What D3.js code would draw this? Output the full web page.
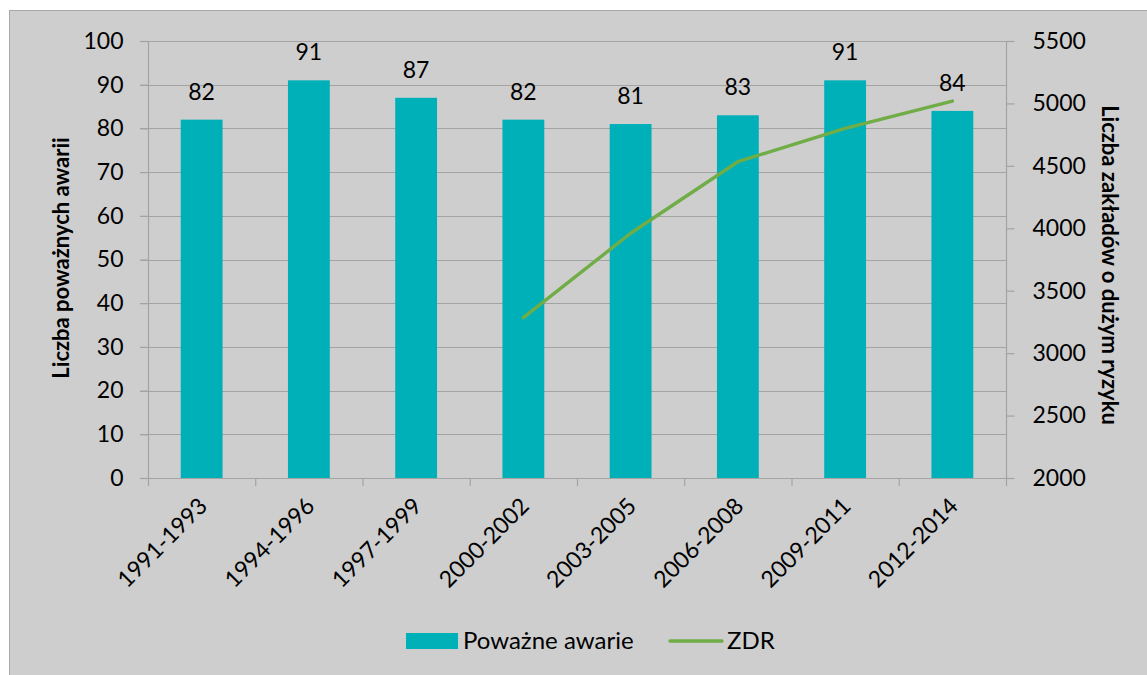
<!DOCTYPE html>
<html lang="pl">
<head>
<meta charset="utf-8">
<script src="https://cdn.jsdelivr.net/npm/d3@7"></script>
<style>
	html, body { margin: 0; padding: 0; background: #fff; }
	svg { display: block; font-family: Lato, "Open Sans", sans-serif; }
	.tick text { font-size: 23px; fill: #000; font-family: Lato, sans-serif; }
	.axis-title { font-size: 22px; font-weight: bold; fill: #000; }
	.bar-label { font-size: 23px; fill: #000; }
	.legend-text { font-size: 24px; fill: #000; }
</style>
</head>
<body>
<svg id="chart"></svg>
<script>
const periods = ["1991-1993", "1994-1996", "1997-1999", "2000-2002", "2003-2005", "2006-2008", "2009-2011", "2012-2014"];
const accidents = [82, 91, 87, 82, 81, 83, 91, 84];
const zdrPeriods = ["2000-2002", "2003-2005", "2006-2008", "2009-2011", "2012-2014"];
const zdrValues = [3284, 3960, 4533, 4801, 5019];
const leftTicks = [0, 10, 20, 30, 40, 50, 60, 70, 80, 90, 100];
const rightTicks = [2000, 2500, 3000, 3500, 4000, 4500, 5000, 5500];

const width = 1147;
const height = 675;
const margin = { top: 41, right: 141, bottom: 197, left: 148 };

const svg = d3.select("#chart").attr("width", width).attr("height", height);

// ramka wykresu
svg.append("rect").attr("x", 9.5).attr("y", 10.5).attr("width", width).attr("height", height)
	.attr("fill", "#cecece").attr("stroke", "#a8a8a8").attr("stroke-width", 1);

const x = d3.scaleBand().domain(periods).range([margin.left, width - margin.right]).paddingInner(0).paddingOuter(0);
const yLeft = d3.scaleLinear().domain([0, 100]).range([height - margin.bottom, margin.top]);
const yRight = d3.scaleLinear().domain([2000, 5500]).range([height - margin.bottom, margin.top]);

const barWidth = x.bandwidth() * 0.39;
const gridColor = "#a3a3a3";

// linie siatki
svg.append("g")
	.selectAll("line")
	.data(leftTicks.filter((d) => d > 0))
	.join("line")
	.attr("x1", margin.left - 8)
	.attr("x2", width - margin.right)
	.attr("y1", (d) => Math.round(yLeft(d)) + 0.5)
	.attr("y2", (d) => Math.round(yLeft(d)) + 0.5)
	.attr("stroke", gridColor)
	.attr("stroke-width", 1.2);

// lewa oś
const leftAxis = svg.append("g")
	.attr("transform", `translate(${margin.left + 0.5},0)`)
	.call(d3.axisLeft(yLeft).tickValues(leftTicks).tickSize(8).tickPadding(17));
leftAxis.selectAll("line, path").attr("stroke", gridColor).attr("stroke-width", 1.2);
leftAxis.select(".domain").attr("d", `M0,${yLeft(100)}V${yLeft(0)}`);

// prawa oś
const rightAxis = svg.append("g")
	.attr("transform", `translate(${width - margin.right + 0.5},0)`)
	.call(d3.axisRight(yRight).tickValues(rightTicks).tickFormat(d3.format("d")).tickSize(8).tickPadding(18));
rightAxis.selectAll("line, path").attr("stroke", gridColor).attr("stroke-width", 1.2);
rightAxis.select(".domain").attr("d", `M0,${yRight(5500)}V${yRight(2000)}`);

// słupki
svg.append("g")
	.selectAll("rect")
	.data(periods)
	.join("rect")
	.attr("x", (d) => x(d) + (x.bandwidth() - barWidth) / 2)
	.attr("y", (d, i) => yLeft(accidents[i]))
	.attr("width", barWidth)
	.attr("height", (d, i) => yLeft(0) - yLeft(accidents[i]))
	.attr("fill", "#00b0b9");

// oś x
const bottomAxis = svg.append("g")
	.attr("transform", `translate(0,${Math.round(yLeft(0)) + 0.5})`)
	.call(d3.axisBottom(x).tickSize(0).tickPadding(0));
bottomAxis.select(".domain").attr("d", `M${margin.left - 8},0H${width - margin.right + 8}`).attr("stroke", gridColor).attr("stroke-width", 1.2);
bottomAxis.selectAll(".tick line").remove();
bottomAxis.selectAll(".tick text")
	.attr("text-anchor", "end")
	.attr("dy", 0)
	.attr("transform", "translate(7,29) rotate(-45)");
svg.append("g")
	.selectAll("line")
	.data(d3.range(periods.length + 1))
	.join("line")
	.attr("x1", (i) => margin.left + 0.5 + i * x.bandwidth())
	.attr("x2", (i) => margin.left + 0.5 + i * x.bandwidth())
	.attr("y1", yLeft(0))
	.attr("y2", yLeft(0) + 8)
	.attr("stroke", gridColor)
	.attr("stroke-width", 1.2);

// etykiety słupków
svg.append("g")
	.selectAll("text")
	.data(periods)
	.join("text")
	.attr("class", "bar-label")
	.attr("x", (d) => x(d) + x.bandwidth() / 2)
	.attr("y", (d, i) => yLeft(accidents[i]) - 20)
	.attr("text-anchor", "middle")
	.text((d, i) => accidents[i]);

// linia ZDR
const line = d3.line()
	.x((d, i) => x(zdrPeriods[i]) + x.bandwidth() / 2)
	.y((d) => yRight(d));
svg.append("path")
	.datum(zdrValues)
	.attr("d", line)
	.attr("fill", "none")
	.attr("stroke", "#70ad47")
	.attr("stroke-width", 3.4)
	.attr("stroke-linecap", "round")
	.attr("stroke-linejoin", "round");

// tytuły osi
svg.append("text")
	.attr("class", "axis-title")
	.attr("transform", `translate(69,258) rotate(-90)`)
	.attr("text-anchor", "middle")
	.text("Liczba poważnych awarii");
svg.append("text")
	.attr("class", "axis-title")
	.attr("transform", `translate(1102,265) rotate(90)`)
	.attr("text-anchor", "middle")
	.text("Liczba zakładów o dużym ryzyku");

// legenda
const legend = svg.append("g");
legend.append("rect").attr("x", 406).attr("y", 633).attr("width", 52).attr("height", 16).attr("fill", "#00b0b9");
legend.append("text").attr("class", "legend-text").attr("x", 463).attr("y", 649).text("Poważne awarie");
legend.append("line").attr("x1", 670).attr("x2", 722).attr("y1", 641).attr("y2", 641)
	.attr("stroke", "#70ad47").attr("stroke-width", 3.4).attr("stroke-linecap", "round");
legend.append("text").attr("class", "legend-text").attr("x", 727).attr("y", 649).text("ZDR");
</script>
</body>
</html>
